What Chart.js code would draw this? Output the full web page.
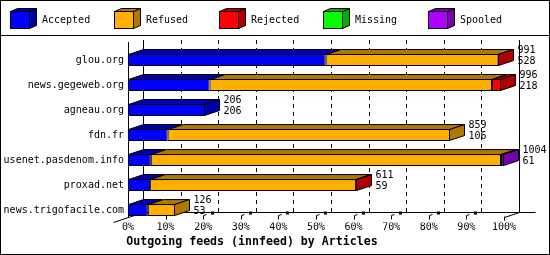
<!DOCTYPE html>
<html><head><meta charset="utf-8">
<style>html,body{margin:0;padding:0;background:#fff}canvas{display:block}</style>
<script src="https://cdn.jsdelivr.net/npm/chart.js@4/dist/chart.umd.min.js"></script>
</head><body>
<canvas id="c" width="550" height="255"></canvas>
<script>
const feeds = ['glou.org', 'news.gegeweb.org', 'agneau.org', 'fdn.fr', 'usenet.pasdenom.info', 'proxad.net', 'news.trigofacile.com'];
const accepted = [528, 218, 206, 106, 61, 59, 53];
const refused  = [461, 754, 0, 753, 935, 550, 73];
const rejected = [2, 24, 0, 0, 5, 2, 0];
const missing  = [0, 0, 0, 0, 0, 0, 0];
const spooled  = [0, 0, 0, 0, 3, 0, 0];
const totals   = [991, 996, 206, 859, 1004, 611, 126];
const seriesNames = ['Accepted', 'Refused', 'Rejected', 'Missing', 'Spooled'];
const tickLabels = ['0%', '10%', '20%', '30%', '40%', '50%', '60%', '70%', '80%', '90%', '100%'];
const chartTitle = 'Outgoing feeds (innfeed) by Articles';

const frontColors = ['#0000ff', '#ffaf00', '#ff0000', '#00ff00', '#af00ff'];
const darkColors  = ['#0000af', '#af7800', '#af0000', '#00af00', '#7800af'];
const FONT = '"DejaVu Sans Mono", monospace';
const DX = 15, DY = -5;
const axisMax = Math.max(...totals);

const seriesValues = [accepted, refused, rejected, missing, spooled];

function poly(ctx, pts, fill) {
  ctx.beginPath();
  ctx.moveTo(pts[0][0], pts[0][1]);
  for (let i = 1; i < pts.length; i++) ctx.lineTo(pts[i][0], pts[i][1]);
  ctx.closePath();
  ctx.fillStyle = fill; ctx.fill();
  ctx.stroke();
}

const frame3d = {
  id: 'frame3d',
  beforeDraw(chart) {
    const ctx = chart.ctx, W = chart.width, H = chart.height;
    ctx.save();
    ctx.fillStyle = '#fff'; ctx.fillRect(0, 0, W, H);
    ctx.strokeStyle = '#000'; ctx.lineWidth = 1;
    ctx.strokeRect(0.5, 0.5, W - 1, H - 1);
    ctx.beginPath(); ctx.moveTo(0, 35.5); ctx.lineTo(W, 35.5); ctx.stroke();
    // legend cubes
    chart.data.datasets.forEach((ds, i) => {
      const x0 = Math.floor(10 + i * 104.5);
      ctx.fillStyle = ds.backgroundColor;
      ctx.fillRect(x0, 11, 19, 17);
      ctx.strokeRect(x0 + 0.5, 11.5, 19, 17);
      poly(ctx, [[x0 + 19.5, 11.5], [x0 + 26.5, 8.5], [x0 + 26.5, 25.5], [x0 + 19.5, 28.5]], darkColors[i]);
      poly(ctx, [[x0 + 0.5, 11.5], [x0 + 7.5, 8.5], [x0 + 26.5, 8.5], [x0 + 19.5, 11.5]], darkColors[i]);
      ctx.fillStyle = '#000';
      ctx.font = '10px ' + FONT;
      ctx.textBaseline = 'middle'; ctx.textAlign = 'left';
      ctx.fillText(ds.label, x0 + 32, 20);
    });
    ctx.restore();
  },
  beforeDatasetsDraw(chart) {
    const ctx = chart.ctx, a = chart.chartArea, xs = chart.scales.x;
    const L = Math.round(a.left) + 0.5;
    const R = Math.round(xs.getPixelForValue(axisMax)) + 0.5;
    const floorF = Math.round(a.bottom - 6) + 0.5;
    const floorB = floorF + DY;
    const topY = Math.round(a.top) - 8;
    ctx.save();
    ctx.strokeStyle = '#000'; ctx.lineWidth = 1;
    // dashed back grid
    ctx.setLineDash([4, 4]);
    xs.ticks.forEach((t, i) => {
      if (i === 0 || i === xs.ticks.length - 1) return;
      const x = Math.round(xs.getPixelForValue(t.value)) + DX + 0.5;
      ctx.beginPath(); ctx.moveTo(x, topY); ctx.lineTo(x, floorB); ctx.stroke();
    });
    ctx.setLineDash([]);
    ctx.beginPath();
    // back walls
    ctx.moveTo(L + DX, topY); ctx.lineTo(L + DX, floorB);
    ctx.moveTo(R + DX, topY); ctx.lineTo(R + DX, floorB);
    ctx.moveTo(L + DX, floorB); ctx.lineTo(R + DX + 16, floorB);
    // front axis
    ctx.moveTo(L, topY + 2); ctx.lineTo(L, floorF);
    // end diagonals
    ctx.moveTo(L - 15, floorF + 5); ctx.lineTo(L + DX, floorB);
    ctx.moveTo(R, floorF); ctx.lineTo(R + DX, floorB);
    ctx.moveTo(R, floorF - 1); ctx.lineTo(R, floorF + 3);
    ctx.stroke();
    // tick marks
    ctx.fillStyle = '#000';
    xs.ticks.forEach((t, i) => {
      if (i === 0 || i === xs.ticks.length - 1) return;
      const x = Math.round(xs.getPixelForValue(t.value)) + 0.5;
      ctx.beginPath();
      ctx.moveTo(x, floorF + 2); ctx.lineTo(x, floorF - 2); ctx.lineTo(x + 3, floorF - 3);
      ctx.stroke();
      ctx.fillRect(x + 7.5, floorB - 1, 3, 3);
    });
    ctx.restore();
  },
  afterDatasetsDraw(chart) {
    const ctx = chart.ctx;
    ctx.save();
    ctx.strokeStyle = '#000'; ctx.lineWidth = 1;
    const n = chart.data.labels.length;
    for (let j = 0; j < n; j++) {
      let last = null;
      chart.data.datasets.forEach((ds, i) => {
        if (!ds.data[j]) return;
        const el = chart.getDatasetMeta(i).data[j];
        const p = el.getProps(['x', 'y', 'base', 'height'], true);
        const yT = p.y - p.height / 2 + 0.5;
        const xb = Math.round(p.base) + 0.5;
        const xe = Math.max(Math.round(p.x) - 0.5, xb);
        poly(ctx, [[xb, yT], [xe, yT], [xe + DX, yT + DY], [xb + DX, yT + DY]], darkColors[i]);
        last = { i, xe, yT, yB: p.y + p.height / 2 - 0.5, y: p.y };
      });
      if (last) {
        const { i, xe, yT, yB, y } = last;
        poly(ctx, [[xe, yT], [xe + DX, yT + DY], [xe + DX, yB + DY], [xe, yB]], darkColors[i]);
        ctx.fillStyle = '#000';
        ctx.font = '10px ' + FONT;
        ctx.textAlign = 'left'; ctx.textBaseline = 'middle';
        ctx.fillText(String(totals[j]), xe + DX + 4, y - 9.5);
        ctx.fillText(String(accepted[j]), xe + DX + 4, y + 1.5);
      }
    }
    ctx.restore();
  }
};

new Chart(document.getElementById('c'), {
  type: 'bar',
  data: {
    labels: feeds,
    datasets: seriesNames.map((name, i) => ({
      label: name,
      data: seriesValues[i],
      backgroundColor: frontColors[i],
      borderColor: '#000',
      borderWidth: 1,
      borderSkipped: false,
      inflateAmount: 0,
      barThickness: 12
    }))
  },
  options: {
    indexAxis: 'y',
    responsive: false,
    animation: false,
    devicePixelRatio: 1,
    events: [],
    layout: { padding: { top: 47.5, right: 46, left: 0, bottom: 6 } },
    plugins: {
      legend: { display: false },
      tooltip: { enabled: false },
      title: {
        display: true, text: chartTitle, position: 'bottom', color: '#000',
        padding: 0,
        font: { family: FONT, size: 11.6, weight: 'bold', lineHeight: 1.2 }
      }
    },
    scales: {
      x: {
        stacked: true, min: 0, max: axisMax,
        grid: { display: false, drawTicks: false, tickLength: 0 }, border: { display: false },
        afterBuildTicks(s) { s.ticks = tickLabels.map((_, i) => ({ value: i * axisMax / 10 })); },
        afterFit(s) { s.height = 12.5; s.paddingLeft = 0; s.paddingRight = 0; },
        ticks: {
          autoSkip: false, maxRotation: 0, minRotation: 0, padding: 0, color: '#000',
          font: { family: FONT, size: 10, lineHeight: 1 },
          callback: (v, i) => tickLabels[i]
        }
      },
      y: {
        stacked: true,
        grid: { display: false, drawTicks: false, tickLength: 0 }, border: { display: false },
        afterFit(s) { s.width = 128; s.paddingTop = 0; s.paddingBottom = 0; },
        ticks: { autoSkip: false, padding: 4, color: '#000', font: { family: FONT, size: 10 } }
      }
    }
  },
  plugins: [frame3d]
});
</script>
</body></html>
